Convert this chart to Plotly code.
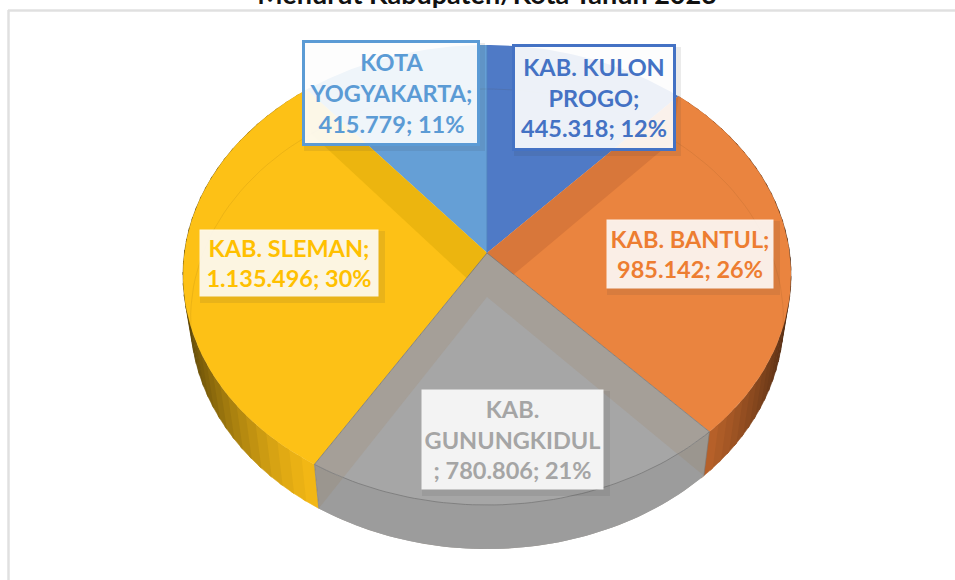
import numpy as np
import plotly.graph_objects as go

categories = ["KAB. KULON PROGO", "KAB. BANTUL", "KAB. GUNUNGKIDUL", "KAB. SLEMAN", "KOTA YOGYAKARTA"]
values = [445318, 985142, 780806, 1135496, 415779]
percents = [12, 26, 21, 30, 11]
label_lines = ["KAB. KULON<br>PROGO;<br>445.318; 12%", "KAB. BANTUL;<br>985.142; 26%",
               "KAB.<br>GUNUNGKIDUL<br>; 780.806; 21%", "KAB. SLEMAN;<br>1.135.496; 30%",
               "KOTA<br>YOGYAKARTA;<br>415.779; 11%"]
title_text = "Menurut Kabupaten/Kota Tahun 2023"

# styles
face = ["#4F7AC6", "#EA843F", "#A6A6A6", "#FDC116", "#659FD6"]
band = ["#4F7AC6", "#D8773A", "#A59F98", "#ECB50F", "#659FD6"]
side_rgb = [(68, 114, 196), (222, 118, 50), (158, 158, 158), (248, 188, 22), (91, 155, 213)]
text_col = ["#4472C4", "#ED7D31", "#A5A5A5", "#FFC000", "#5B9BD5"]
box_col = ["rgba(255,255,255,0.90)", "rgba(255,255,255,0.87)", "rgba(245,245,245,0.98)",
           "rgba(255,255,255,0.87)", "rgba(255,255,255,0.90)"]
border_col = ["#4472C4", "rgba(0,0,0,0)", "rgba(0,0,0,0)", "rgba(0,0,0,0)", "#5B9BD5"]
boxes = [(512, 676, 44, 151), (605, 775, 218, 290), (420, 605, 388, 491), (198, 380, 228, 298), (302, 480, 40, 146)]

# projection of the tilted disc
CX, RX, CY, RY, APEX = 487.0, 304.0, 275.0, 230.0, 253.0
C, A = -0.0957, 203.7
D = RX * np.sqrt(1 - C * C)
DROP, K = 44.0, 0.975


def top(t):
    t = np.asarray(t, float)
    px, py = np.sin(t), -np.cos(t)
    w = 1 + C * py
    return CX + D * px / w, (A * py + APEX) / w


def low(t):
    x, y = top(t)
    return CX + (x - CX) * K, y + DROP


def poly(x, y, fill, line="rgba(0,0,0,0)", w=0.0):
    return go.Scatter(x=list(x), y=list(y), mode="lines", fill="toself", fillcolor=fill,
                      line=dict(color=line, width=w), hoverinfo="skip", showlegend=False)


def path(x, y, color, w=1.0):
    return go.Scatter(x=list(x), y=list(y), mode="lines", line=dict(color=color, width=w),
                      hoverinfo="skip", showlegend=False)


frac = np.array(values, float) / np.sum(values)
edges = np.concatenate([[0], np.cumsum(frac)]) * 2 * np.pi
traces = []


def arc(i, n=60):
    return np.linspace(edges[i], edges[i + 1], n)


# side walls
for i in [1, 3]:
    a = arc(i, 40)
    for t0, t1 in zip(a[:-1], a[1:]):
        tm = (t0 + t1) / 2
        shade = 1 - 0.65 * np.clip((abs(np.sin(tm)) - 0.5) / 0.5, 0, 1) ** 1.4
        col = "rgb(%d,%d,%d)" % tuple(int(c * shade) for c in side_rgb[i])
        tt = np.array([t0, t1 + 0.012])
        xa, ya = top(tt)
        xb, yb = low(tt[::-1])
        traces.append(poly(np.r_[xa, xb], np.r_[ya, yb], col, col, 0.6))

# faces
for i in [0, 4, 3, 1]:
    a = arc(i)
    x, y = top(a)
    traces.append(poly(np.r_[CX, x], np.r_[APEX, y], face[i]))

# darker bands left by the slice wall seen through the face
for i, e in [(3, edges[4]), (1, edges[1])]:
    xe, ye = top(e)
    xl, yl = low(e)
    traces.append(poly([CX, xe, xl, CX], [APEX, ye, yl, APEX + DROP], band[i]))

# see-through rear rim
tb = np.linspace(-1.72, 1.72, 90)
traces.append(path(*low(tb), "rgba(90,60,20,0.10)", 1))

# translucent slice
a = arc(2)
x, y = top(a)
lx, ly = low(a)
traces.append(poly(np.r_[x, lx[::-1]], np.r_[y, ly[::-1]], band[2]))
traces.append(poly(np.r_[CX, x], np.r_[APEX, y], band[2]))
traces.append(poly(np.r_[CX, lx], np.r_[APEX + DROP, ly], face[2]))
traces.append(poly(np.r_[x, lx[::-1]], np.r_[y, ly[::-1]], "rgba(0,0,0,0.055)"))
traces.append(path(np.r_[CX, x, CX], np.r_[APEX, y, APEX], "rgba(120,120,120,0.8)", 1))
traces.append(path([x[0], lx[0]], [y[0], ly[0]], "rgba(120,120,120,0.6)", 1))
traces.append(path([x[-1], lx[-1]], [y[-1], ly[-1]], "rgba(120,120,120,0.6)", 1))

# slice divider
traces.append(path(*zip(top(0.0), (CX, APEX)), "rgba(80,130,190,0.9)", 1))

fig = go.Figure(traces)

shapes = [dict(type="line", x0=8.5, x1=8.5, y0=10, y1=600, line=dict(color="#E0E0E0", width=2.5)),
          dict(type="line", x0=8, x1=970, y0=10.5, y1=10.5, line=dict(color="#E0E0E0", width=2.5))]
for (x0, x1, y0, y1), c in zip(boxes, text_col):
    shapes.append(dict(type="rect", x0=x0 + 2, x1=x1 + 5, y0=y0 + 3, y1=y1 + 5, layer="above",
                       fillcolor="rgba(60,60,60,0.10)", line=dict(width=0)))

annotations = []
for i, t in enumerate(label_lines):
    x0, x1, y0, y1 = boxes[i]
    annotations.append(dict(x=(x0 + x1) / 2, y=(y0 + y1) / 2, xref="x", yref="y", text=t, showarrow=False,
                            width=x1 - x0 - 6, height=y1 - y0 - 6, align="center", valign="middle",
                            bgcolor=box_col[i], bordercolor=border_col[i], borderwidth=3, borderpad=0,
                            font=dict(family="Lato", size=23.5, color=text_col[i], weight="bold")))

fig.update_layout(
    width=955, height=580, margin=dict(l=0, r=0, t=0, b=0), showlegend=False,
    paper_bgcolor="white", plot_bgcolor="white", hovermode=False,
    title=dict(text=title_text, x=487 / 955, xanchor="center", y=1, yanchor="top", pad=dict(t=-15),
               font=dict(family="Lato", size=27, color="#111111", weight="bold")),
    xaxis=dict(range=[0, 955], visible=False, fixedrange=True),
    yaxis=dict(range=[580, 0], visible=False, fixedrange=True),
    shapes=shapes, annotations=annotations,
)
fig.write_html("out.html", config={"displayModeBar": False}, post_script="document.body.style.margin='0';")
